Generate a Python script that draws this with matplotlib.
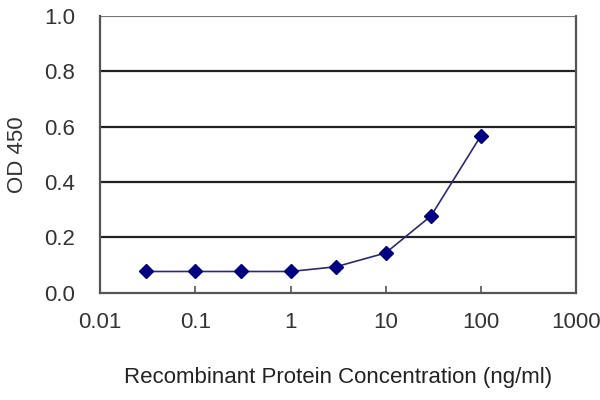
import matplotlib
matplotlib.use("Agg")
import matplotlib.pyplot as plt
from matplotlib.ticker import FixedLocator, FixedFormatter, NullLocator

# data
conc = [0.03, 0.1, 0.3, 1, 3, 10, 30, 100]
od450 = [0.077, 0.077, 0.077, 0.077, 0.094, 0.144, 0.278, 0.567]
x_ticks = [0.01, 0.1, 1, 10, 100, 1000]
x_tick_labels = ["0.01", "0.1", "1", "10", "100", "1000"]
y_ticks = [0.0, 0.2, 0.4, 0.6, 0.8, 1.0]

plt.rcParams["font.family"] = ["Liberation Sans", "DejaVu Sans"]

fig = plt.figure(figsize=(6, 4), dpi=100, facecolor="white")
ax = fig.add_axes([0.167, 0.268, 0.793, 0.692])

for y in y_ticks[1:-1]:
    ax.axhline(y, color="#222222", lw=1.6, zorder=1)
ax.axhline(1.0, color="#777777", lw=1.6, zorder=1)

ax.plot(conc, od450, color="#2a2a70", lw=1.2, marker="D", ms=7,
        mfc="#000080", mec="#000080", zorder=3)

ax.set_xscale("log")
ax.set_xlim(0.01, 1000)
ax.set_ylim(0, 1.0)
ax.xaxis.set_major_locator(FixedLocator(x_ticks))
ax.xaxis.set_major_formatter(FixedFormatter(x_tick_labels))
ax.xaxis.set_minor_locator(NullLocator())
ax.set_yticks(y_ticks)
ax.set_yticklabels([f"{v:.1f}" for v in y_ticks])

for side in ("left", "bottom", "right"):
    ax.spines[side].set_color("#555555")
    ax.spines[side].set_linewidth(1.6)
ax.spines["top"].set_visible(False)

ax.tick_params(axis="x", direction="in", length=5, width=1.2, color="#555555",
               labelsize=16, labelcolor="#333333", pad=14)
ax.tick_params(axis="y", length=0, labelsize=16, labelcolor="#333333", pad=18)

ax.set_xlabel("Recombinant Protein Concentration (ng/ml)", fontsize=16,
              color="#222222", labelpad=24)
ax.set_ylabel("OD 450", fontsize=16, color="#333333", labelpad=12)

fig.savefig("out.png", dpi=100, facecolor="white")
